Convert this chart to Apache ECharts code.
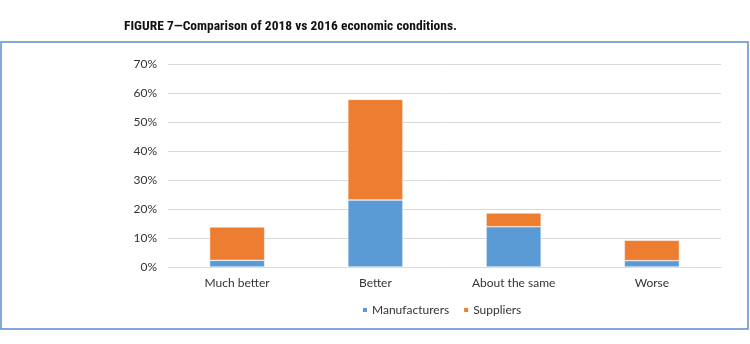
<!DOCTYPE html>
<html><head><meta charset="utf-8">
<script src="https://cdn.jsdelivr.net/npm/echarts@6/dist/echarts.min.js"></script>
<style>html,body{margin:0;padding:0;background:#fff}#c{width:750px;height:344px}</style>
</head><body><div id="c"></div>
<script>
const categories = ["Much better", "Better", "About the same", "Worse"];
const manufacturers = [2.3, 23.1, 13.9, 2.2];
const suppliers = [11.5, 34.7, 4.7, 7.0];
const yTicks = [0, 10, 20, 30, 40, 50, 60, 70];

const chart = echarts.init(document.getElementById('c'));
chart.setOption({
  animation: false,
  title: {
    text: "FIGURE 7\u2014Comparison of 2018 vs 2016 economic conditions.",
    left: 119, top: 15,
    textStyle: {fontFamily: "Liberation Sans Narrow, Roboto Condensed, sans-serif", fontWeight: "bold", fontSize: 13.5, color: "#111"}
  },
  graphic: [{
    type: 'rect', silent: true,
    shape: {x: 1, y: 42, width: 747, height: 287},
    style: {fill: 'none', stroke: '#5B8FC9', lineWidth: 1.5}
  }],
  legend: {
    left: 361, top: 304, padding: 0, itemWidth: 6, itemHeight: 6, itemGap: 13,
    icon: 'rect',
    textStyle: {fontFamily: "Lato, sans-serif", fontSize: 12, color: "#333", padding: [0, 0, 0, -1]},
    data: ["Manufacturers", "Suppliers"]
  },
  grid: {left: 168, right: 29, top: 64, bottom: 77},
  xAxis: {
    type: 'category', data: categories,
    axisLine: {lineStyle: {color: '#D9D9D9'}},
    axisTick: {show: false},
    axisLabel: {fontFamily: "Lato, sans-serif", fontSize: 12, color: '#333', margin: 10}
  },
  yAxis: {
    type: 'value', min: 0, max: yTicks[yTicks.length - 1], interval: 10,
    axisLabel: {formatter: '{value}%', fontFamily: "Lato, sans-serif", fontSize: 12, color: '#333', margin: 11},
    splitLine: {lineStyle: {color: '#D9D9D9'}},
    axisLine: {show: false}, axisTick: {show: false}
  },
  series: [
    {name: "Manufacturers", type: 'bar', stack: 's', data: manufacturers, barWidth: 55,
     itemStyle: {color: '#5B9BD5', borderColor: '#fff', borderWidth: 0.5}},
    {name: "Suppliers", type: 'bar', stack: 's', data: suppliers, barWidth: 55,
     itemStyle: {color: '#ED7D31', borderColor: '#fff', borderWidth: 0.5}}
  ]
});
</script></body></html>
